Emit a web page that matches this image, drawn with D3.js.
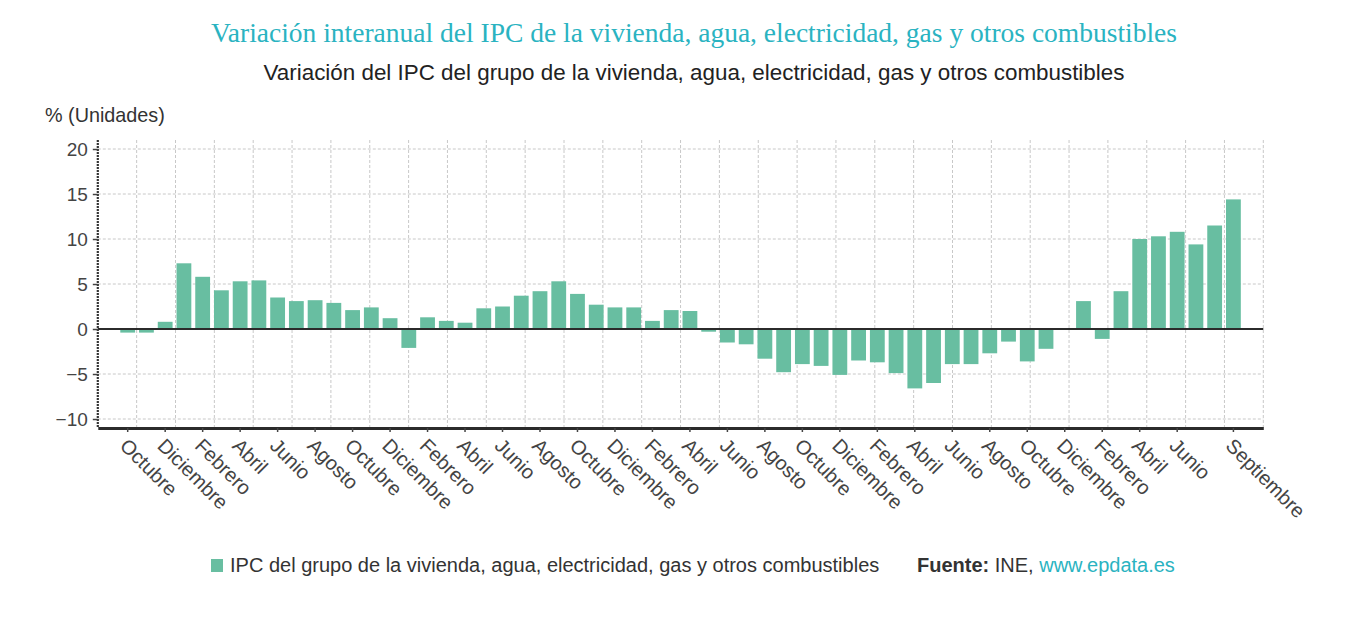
<!DOCTYPE html>
<html>
<head>
<meta charset="utf-8">
<script src="https://cdn.jsdelivr.net/npm/d3@7/dist/d3.min.js"></script>
<style>
	body { margin: 0; background: #fff; }
	svg { display: block; font-family: 'Liberation Sans', Arial, sans-serif; }
</style>
</head>
<body>
<div id="chart"></div>
<script>
// Monthly data, October to September (60 months)
const monthNames = ['Octubre', 'Noviembre', 'Diciembre', 'Enero', 'Febrero', 'Marzo', 'Abril', 'Mayo',
	'Junio', 'Julio', 'Agosto', 'Septiembre'];
const months = d3.range(60).map(i => monthNames[i % 12]);
const values = [
	-0.4, -0.4, 0.8, 7.3, 5.8, 4.3, 5.3, 5.4, 3.5, 3.1,
	3.2, 2.9, 2.1, 2.4, 1.2, -2.1, 1.3, 0.9, 0.7, 2.3,
	2.5, 3.7, 4.2, 5.3, 3.9, 2.7, 2.4, 2.4, 0.9, 2.1,
	2.0, -0.3, -1.5, -1.7, -3.3, -4.8, -3.9, -4.1, -5.1, -3.5,
	-3.7, -4.9, -6.6, -6.0, -3.9, -3.9, -2.7, -1.4, -3.6, -2.2,
	0.1, 3.1, -1.1, 4.2, 10.0, 10.3, 10.8, 9.4, 11.5, 14.4
];
const yTicks = [-10, -5, 0, 5, 10, 15, 20];

const title = 'Variación interanual del IPC de la vivienda, agua, electricidad, gas y otros combustibles';
const subtitle = 'Variación del IPC del grupo de la vivienda, agua, electricidad, gas y otros combustibles';
const seriesName = 'IPC del grupo de la vivienda, agua, electricidad, gas y otros combustibles';

const width = 1347, height = 617;
const plot = { left: 97.8, right: 1263.3, top: 140, bottom: 428 };
const barColor = '#68bea1';
const teal = '#2ab3c1';

const svg = d3.select('#chart').append('svg')
	.attr('width', width)
	.attr('height', height);

// Scales
const x = d3.scaleBand()
	.domain(d3.range(values.length))
	.range([plot.left, plot.right])
	.paddingInner(0.21)
	.paddingOuter(1.2);

const y = d3.scaleLinear()
	.domain([-11, 21])
	.range([plot.bottom, plot.top]);

// Grid: horizontal at y ticks, vertical at 30 even intervals
const gridX = d3.scaleLinear().domain([0, 30]).range([plot.left, plot.right]);

svg.append('g')
	.selectAll('line')
	.data(yTicks.filter(d => d !== 0))
	.join('line')
		.attr('x1', plot.left)
		.attr('x2', plot.right)
		.attr('y1', d => y(d))
		.attr('y2', d => y(d))
		.attr('stroke', '#c8c8c8')
		.attr('stroke-dasharray', '3,2');

svg.append('g')
	.selectAll('line')
	.data(d3.range(1, 31))
	.join('line')
		.attr('x1', d => gridX(d))
		.attr('x2', d => gridX(d))
		.attr('y1', plot.top)
		.attr('y2', plot.bottom)
		.attr('stroke', '#c8c8c8')
		.attr('stroke-dasharray', '3,2');

// Bars
svg.append('g')
	.selectAll('rect')
	.data(values)
	.join('rect')
		.attr('x', (d, i) => x(i))
		.attr('width', x.bandwidth())
		.attr('y', d => y(Math.max(0, d)))
		.attr('height', d => Math.abs(y(d) - y(0)))
		.attr('fill', barColor);

// Zero line
svg.append('line')
	.attr('x1', plot.left)
	.attr('x2', plot.right)
	.attr('y1', y(0))
	.attr('y2', y(0))
	.attr('stroke', '#2b2b2b')
	.attr('stroke-width', 2.2);

// Y axis
const yAxis = svg.append('g')
	.attr('transform', 'translate(' + plot.left + ',0)')
	.call(d3.axisLeft(y).tickValues(yTicks).tickSize(5).tickPadding(5));
yAxis.select('.domain')
	.attr('d', 'M0,' + plot.top + 'V' + plot.bottom)
	.attr('stroke', '#333')
	.attr('stroke-width', 2.2)
	.attr('stroke-dasharray', '2,1');
yAxis.selectAll('.tick line').attr('stroke', '#444').attr('stroke-width', 1.5);
yAxis.selectAll('.tick text')
	.attr('fill', '#444')
	.style('font-size', '19px');

svg.append('text')
	.attr('x', 45)
	.attr('y', 122)
	.attr('fill', '#333')
	.style('font-size', '19.8px')
	.text('% (Unidades)');

// X axis: every second month, plus the last one
const labelIdx = d3.range(values.length).filter(i => (i % 2 === 0 && i < values.length - 3) || i === values.length - 1);
const xAxis = svg.append('g')
	.attr('transform', 'translate(0,' + plot.bottom + ')')
	.call(d3.axisBottom(x).tickValues(labelIdx).tickFormat(i => months[i]).tickSize(4).tickSizeOuter(0));
xAxis.select('.domain')
	.attr('stroke', '#2b2b2b')
	.attr('stroke-width', 3);
xAxis.selectAll('.tick line').attr('stroke', '#444').attr('stroke-width', 1.5);
xAxis.selectAll('.tick text')
	.attr('fill', '#444')
	.style('font-size', '20px')
	.attr('text-anchor', 'start')
	.attr('y', 0)
	.attr('dy', '0.35em')
	.attr('transform', 'translate(-4,14) rotate(45)');

// Titles
svg.append('text')
	.attr('x', 694)
	.attr('y', 42)
	.attr('text-anchor', 'middle')
	.attr('fill', teal)
	.style('font-family', "'Liberation Serif', 'Times New Roman', serif")
	.style('font-size', '27.5px')
	.text(title);

svg.append('text')
	.attr('x', 694)
	.attr('y', 80)
	.attr('text-anchor', 'middle')
	.attr('fill', '#222')
	.style('font-size', '22.4px')
	.text(subtitle);

// Legend and source
const legend = svg.append('g').attr('transform', 'translate(211,572)');
legend.append('rect')
	.attr('x', 0)
	.attr('y', -13)
	.attr('width', 12)
	.attr('height', 13)
	.attr('fill', barColor);
legend.append('text')
	.attr('x', 19)
	.attr('y', 0)
	.attr('fill', '#333')
	.style('font-size', '20px')
	.text(seriesName);

const source = svg.append('text')
	.attr('x', 917)
	.attr('y', 572)
	.attr('fill', '#333')
	.style('font-size', '20px');
source.append('tspan').style('font-weight', 'bold').text('Fuente:');
source.append('tspan').text(' INE, ');
source.append('tspan').attr('fill', teal).text('www.epdata.es');
</script>
</body>
</html>
